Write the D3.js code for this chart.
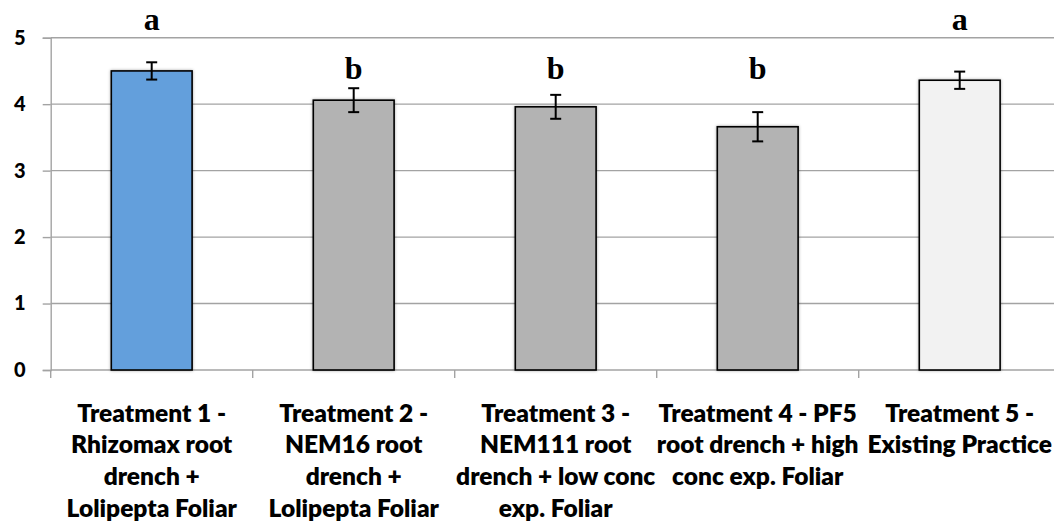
<!DOCTYPE html>
<html>
<head>
<meta charset="utf-8">
<script src="https://cdn.jsdelivr.net/npm/d3@7"></script>
<style>
  html, body { margin: 0; padding: 0; background: #fff; }
  svg { display: block; }
</style>
</head>
<body>
<svg id="chart" width="1054" height="522"></svg>
<script>
// Treatment labels, one line per entry (as wrapped under the axis)
const categories = [
  ["Treatment 1 -", "Rhizomax root", "drench +", "Lolipepta Foliar"],
  ["Treatment 2 -", "NEM16 root", "drench +", "Lolipepta Foliar"],
  ["Treatment 3 -", "NEM111 root", "drench + low conc", "exp. Foliar"],
  ["Treatment 4 - PF5", "root drench + high", "conc exp. Foliar"],
  ["Treatment 5 -", "Existing Practice"]
];
// Mean score per treatment and its standard error
const means  = [4.50, 4.06, 3.96, 3.66, 4.36];
const errors = [0.13, 0.18, 0.18, 0.22, 0.13];
// Significance groups
const letters = ["a", "b", "b", "b", "a"];
const yTicks = [0, 1, 2, 3, 4, 5];
const fills = ["#639fdc", "#b3b3b3", "#b3b3b3", "#b3b3b3", "#f2f2f2"];

(function draw() {
  const svg = d3.select("#chart");
  const plotLeft = 50.7, plotBottom = 370, plotTop = 37.7;
  const step = 202;

  const x = d3.scaleBand()
    .domain(d3.range(categories.length))
    .range([plotLeft, plotLeft + step * categories.length])
    .paddingInner(0.6)
    .paddingOuter(0.3);

  const y = d3.scaleLinear().domain([0, 5]).range([plotBottom, plotTop]);

  const gridColor = "#a3a3a3";

  // soft shadow under the bars
  const defs = svg.append("defs");
  const f = defs.append("filter").attr("id", "shadow")
    .attr("x", "-10%").attr("y", "-10%").attr("width", "120%").attr("height", "120%");
  f.append("feDropShadow").attr("dx", 0).attr("dy", 0)
    .attr("stdDeviation", 1.6).attr("flood-color", "#000").attr("flood-opacity", 0.35);

  // horizontal gridlines
  svg.append("g").selectAll("line")
    .data(yTicks.filter(d => d > 0))
    .join("line")
    .attr("x1", plotLeft).attr("x2", 1054)
    .attr("y1", d => y(d)).attr("y2", d => y(d))
    .attr("stroke", gridColor).attr("stroke-width", 1.4);

  // y axis
  const yAxis = svg.append("g")
    .attr("transform", `translate(${plotLeft},0)`)
    .call(d3.axisLeft(y).tickValues(yTicks).tickSize(8).tickPadding(17).tickFormat(d3.format("d")));
  yAxis.attr("font-size", null).attr("font-family", null);
  yAxis.select(".domain").attr("stroke", gridColor).attr("stroke-width", 1.4);
  yAxis.selectAll(".tick line").attr("stroke", gridColor).attr("stroke-width", 1.4);
  yAxis.selectAll(".tick text")
    .style("font-family", "Lato, sans-serif")
    .style("font-weight", "900")
    .style("font-size", "20px")
    .attr("fill", "#000");

  // x axis with boundary ticks between categories
  const xb = svg.append("g");
  xb.append("line")
    .attr("x1", plotLeft).attr("x2", 1054)
    .attr("y1", plotBottom).attr("y2", plotBottom)
    .attr("stroke", gridColor).attr("stroke-width", 1.4);
  xb.selectAll("line.tk")
    .data(d3.range(categories.length + 1))
    .join("line")
    .attr("class", "tk")
    .attr("x1", i => x.range()[0] + i * x.step())
    .attr("x2", i => x.range()[0] + i * x.step())
    .attr("y1", plotBottom).attr("y2", plotBottom + 8)
    .attr("stroke", gridColor).attr("stroke-width", 1.4);

  // bars
  svg.append("g").selectAll("rect")
    .data(means)
    .join("rect")
    .attr("x", (d, i) => x(i))
    .attr("y", d => y(d))
    .attr("width", x.bandwidth())
    .attr("height", d => y(0) - y(d))
    .attr("fill", (d, i) => fills[i])
    .attr("stroke", "#000")
    .attr("stroke-width", 1.6)
    .attr("filter", "url(#shadow)");

  // error bars
  const eb = svg.append("g").attr("stroke", "#000").attr("stroke-width", 2);
  means.forEach((m, i) => {
    const cx = x(i) + x.bandwidth() / 2;
    const hi = y(m + errors[i]), lo = y(m - errors[i]);
    eb.append("line").attr("x1", cx).attr("x2", cx).attr("y1", hi).attr("y2", lo);
    eb.append("line").attr("x1", cx - 5.5).attr("x2", cx + 5.5).attr("y1", hi).attr("y2", hi);
    eb.append("line").attr("x1", cx - 5.5).attr("x2", cx + 5.5).attr("y1", lo).attr("y2", lo);
  });

  // significance letters
  const letterLevel = { a: 5.11, b: 4.38 };
  svg.append("g").selectAll("text")
    .data(letters)
    .join("text")
    .attr("x", (d, i) => x(i) + x.bandwidth() / 2)
    .attr("y", d => y(letterLevel[d]))
    .attr("text-anchor", "middle")
    .attr("font-family", "'Liberation Serif', serif")
    .attr("font-weight", "bold")
    .attr("font-size", 32)
    .text(d => d);

  // category labels
  const lab = svg.append("g")
    .style("font-family", "Lato, sans-serif")
    .style("font-weight", "800")
    .style("font-size", "24.5px")
    .attr("text-anchor", "middle")
    .attr("fill", "#000");
  categories.forEach((lines, i) => {
    const cx = x(i) + x.bandwidth() / 2;
    const t = lab.append("text").attr("x", cx).attr("y", 421.7);
    lines.forEach((s, k) => {
      t.append("tspan")
        .attr("x", cx)
        .attr("dy", k === 0 ? 0 : 31.7)
        .text(s);
    });
  });
})();
</script>
</body>
</html>
